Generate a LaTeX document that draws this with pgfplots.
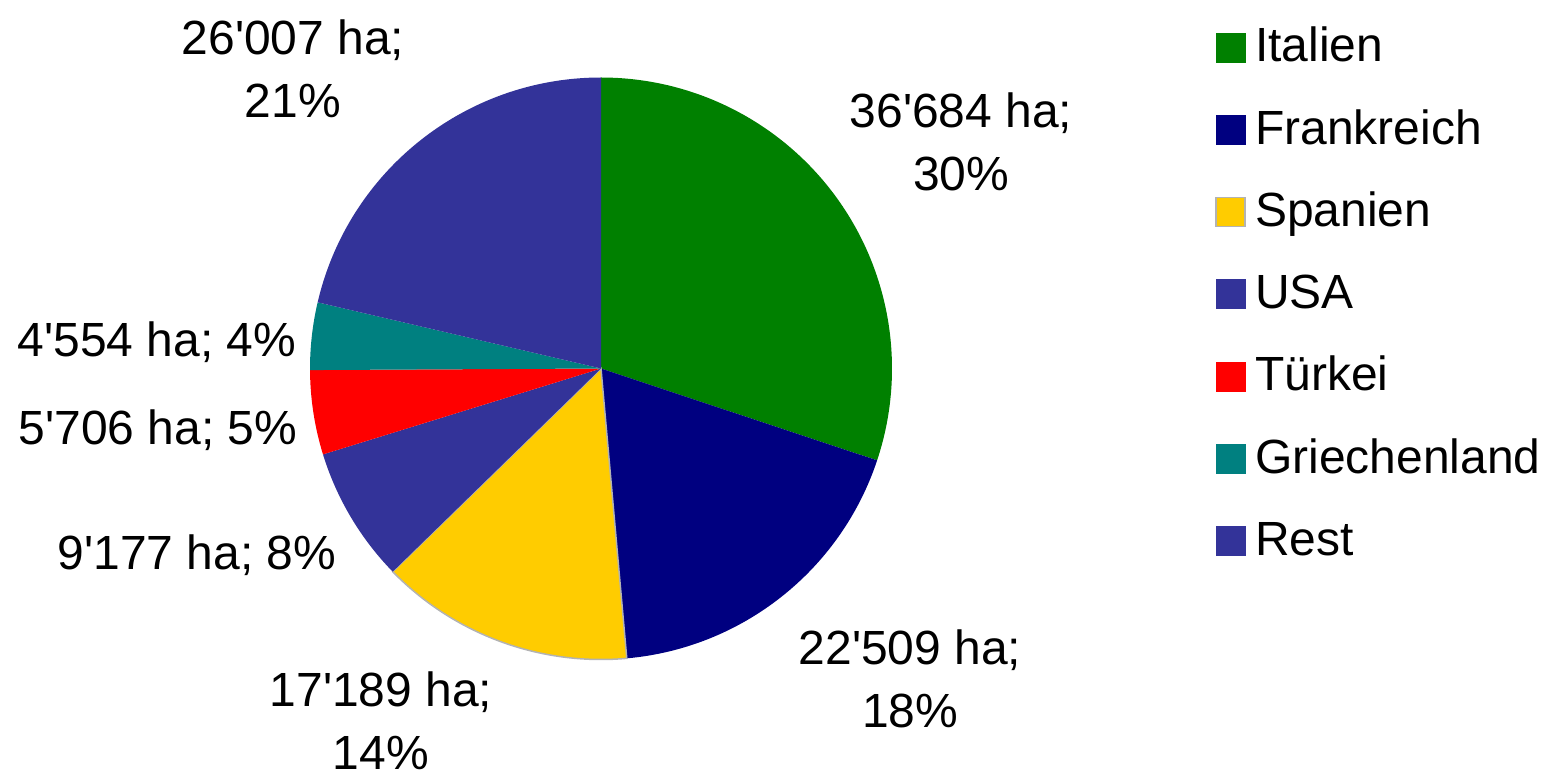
\documentclass[border=0pt]{standalone}
\usepackage{pgfplots}
\usepackage{pgfplotstable}
\pgfplotsset{compat=1.18}
\usepackage{fontspec}
\setmainfont{Liberation Sans}[Ligatures=TeXOff]
\definecolor{cIt}{RGB}{0,128,0}
\definecolor{cFr}{RGB}{0,0,128}
\definecolor{cEs}{RGB}{255,204,0}
\definecolor{cUs}{RGB}{51,51,153}
\definecolor{cTr}{RGB}{255,0,0}
\definecolor{cGr}{RGB}{0,128,128}
\definecolor{cRe}{RGB}{51,51,153}
\definecolor{edge}{RGB}{179,179,179}

\pgfplotstableread{
name value
Italien 36684
Frankreich 22509
Spanien 17189
USA 9177
Tuerkei 5706
Griechenland 4554
Rest 26007
}\datatable

% cumulative angles (clockwise from 90 degrees)
\newcommand\getv[2]{\pgfplotstablegetelem{#1}{value}\of\datatable\xdef#2{\fpeval{\pgfplotsretval/1000}}}
\getv{0}\vA \getv{1}\vB \getv{2}\vC \getv{3}\vD \getv{4}\vE \getv{5}\vF \getv{6}\vG
\edef\tot{\fpeval{\vA+\vB+\vC+\vD+\vE+\vF+\vG}}
\def\aA{90}
\edef\aB{\fpeval{round(\aA-360*\vA/\tot,3)}}
\edef\aC{\fpeval{round(\aB-360*\vB/\tot,3)}}
\edef\aD{\fpeval{round(\aC-360*\vC/\tot,3)}}
\edef\aE{\fpeval{round(\aD-360*\vD/\tot,3)}}
\edef\aF{\fpeval{round(\aE-360*\vE/\tot,3)}}
\edef\aG{\fpeval{round(\aF-360*\vF/\tot,3)}}
\edef\aH{\fpeval{round(\aG-360*\vG/\tot,3)}}
\def\R{5.82}

\newcommand\slice[3]{% start, end, style
  \fill[#3] (axis cs:0,0) -- (axis cs:{\R*cos(#1)},{\R*sin(#1)}) arc[start angle=#1, end angle=#2, radius=\R] -- cycle;}

\begin{document}
\begin{tikzpicture}
\begin{axis}[
  x=1cm, y=1cm,
  xmin=-12.02, xmax=18.96, ymin=-8.17, ymax=7.37,
  hide axis, clip=false, scale only axis,
  legend style={at={(axis cs:12.17,6.91)}, anchor=north west, draw=none, fill=none,
    font=\fontsize{27.3}{33}\selectfont,
    nodes={inner sep=0pt, text height=0.7cm, text depth=0.2cm},
    row sep=0.745cm, column sep=0.19cm},
  legend cell align=left,
  legend image code/.code={\fill[#1] (0cm,-0.25cm) rectangle (0.58cm,0.33cm);},
]
\path (rel axis cs:0,0) rectangle (rel axis cs:1,1);
\slice{\aA}{\aB}{cIt}
\slice{\aB}{\aC}{cFr}
\slice{\aC}{\aD}{cEs, draw=edge, line width=0.03cm}
\slice{\aD}{\aE}{cUs}
\slice{\aE}{\aF}{cTr}
\slice{\aF}{\aG}{cGr}
\slice{\aG}{\aH}{cRe}

\addlegendimage{cIt}\addlegendentry{Italien}
\addlegendimage{cFr}\addlegendentry{Frankreich}
\addlegendimage{cEs, draw=edge, line width=0.03cm}\addlegendentry{Spanien}
\addlegendimage{cUs}\addlegendentry{USA}
\addlegendimage{cTr}\addlegendentry{Türkei}
\addlegendimage{cGr}\addlegendentry{Griechenland}
\addlegendimage{cRe}\addlegendentry{Rest}

\begin{scope}[every node/.style={font=\fontsize{27.3}{35.9}\selectfont, align=center, inner sep=0pt}]
\node at (axis cs:7.20,4.53) {36'684 ha;\\30\%};
\node at (axis cs:6.18,-6.20) {22'509 ha;\\18\%};
\node at (axis cs:-4.40,-7.05) {17'189 ha;\\14\%};
\node at (axis cs:-8.08,-3.73) {9'177 ha; 8\%};
\node at (axis cs:-8.86,-1.23) {5'706 ha; 5\%};
\node at (axis cs:-8.88,0.53) {4'554 ha; 4\%};
\node at (axis cs:-6.16,6.0) {26'007 ha;\\21\%};
\end{scope}
\end{axis}
\end{tikzpicture}
\end{document}
